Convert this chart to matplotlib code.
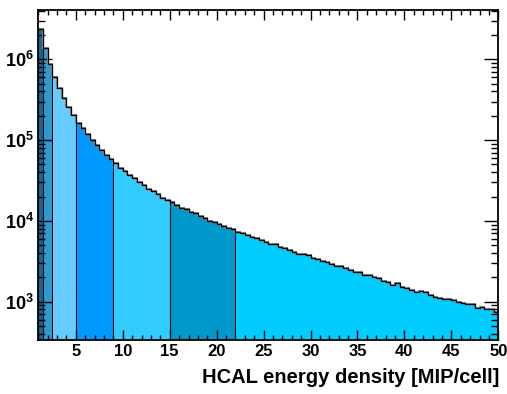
import numpy as np
import matplotlib
matplotlib.use("Agg")
import matplotlib.pyplot as plt
from matplotlib.ticker import MultipleLocator, LogLocator, FuncFormatter, NullFormatter

plt.rcParams['font.family'] = ['Liberation Sans', 'DejaVu Sans']
plt.rcParams['mathtext.fontset'] = 'custom'
plt.rcParams['mathtext.rm'] = 'Liberation Sans:bold'
plt.rcParams['mathtext.bf'] = 'Liberation Sans:bold'
plt.rcParams['mathtext.it'] = 'Liberation Sans:bold'

# ---- data -------------------------------------------------------------
bin_width = 0.5
x_start = 1.0
counts = [
    2.37e6, 1.38e6, 8.69e5, 6.04e5, 4.41e5, 3.31e5, 2.56e5, 2.02e5, 1.65e5, 1.41e5,
    1.18e5, 1.01e5, 8.75e4, 7.58e4, 6.58e4, 5.82e4, 5.19e4, 4.57e4, 4.17e4, 3.72e4,
    3.44e4, 3.07e4, 2.79e4, 2.51e4, 2.31e4, 2.14e4, 1.94e4, 1.82e4, 1.71e4, 1.58e4,
    1.46e4, 1.40e4, 1.30e4, 1.25e4, 1.16e4, 1.07e4, 1.00e4, 9.58e3, 9.18e3, 8.67e3,
    8.19e3, 7.85e3, 7.37e3, 7.04e3, 6.71e3, 6.39e3, 6.10e3, 5.82e3, 5.45e3, 5.19e3,
    5.12e3, 4.81e3, 4.59e3, 4.37e3, 4.09e3, 3.90e3, 3.87e3, 3.74e3, 3.48e3, 3.35e3,
    3.22e3, 3.08e3, 2.89e3, 2.79e3, 2.73e3, 2.62e3, 2.47e3, 2.35e3, 2.33e3, 2.14e3,
    2.11e3, 2.01e3, 1.95e3, 1.81e3, 1.77e3, 1.61e3, 1.69e3, 1.53e3, 1.47e3, 1.40e3,
    1.33e3, 1.36e3, 1.32e3, 1.21e3, 1.15e3, 1.12e3, 1.08e3, 1.08e3, 1.05e3, 1.00e3,
    955, 929, 925, 828, 853, 805, 800, 752,
]
region_bounds = [1.0, 1.5, 2.5, 5.0, 9.0, 15.0, 22.0, 50.0]
region_colors = ['#0f6a99', '#3399cc', '#66ccff', '#0099ff', '#33ccff', '#0099cc', '#00ccff']
x_ticks = [5, 10, 15, 20, 25, 30, 35, 40, 45, 50]
x_label = "HCAL energy density [MIP/cell]"
x_range = (1.0, 50.0)
y_range = (335, 4.08e6)

# ---- figure -----------------------------------------------------------
counts = np.array(counts, dtype=float)
edges = x_start + bin_width * np.arange(len(counts) + 1)

fig = plt.figure(figsize=(5.07, 3.94), dpi=100)
ax = fig.add_axes([38.3 / 507, 54 / 394, 460 / 507, 330 / 394])
ax.set_yscale('log')

for lo, hi, col in zip(region_bounds[:-1], region_bounds[1:], region_colors):
    i0 = int(round((lo - x_start) / bin_width))
    i1 = int(round((hi - x_start) / bin_width))
    ax.stairs(counts[i0:i1], edges[i0:i1 + 1], fill=True, facecolor=col,
              edgecolor='black', linewidth=0.75, baseline=1.0, zorder=2)

ax.stairs(counts, edges, color='#888888', linewidth=1.5, baseline=None, zorder=3)
ax.stairs(counts, edges, color='black', linewidth=0.9, baseline=None, zorder=4)

ax.set_xlim(*x_range)
ax.set_ylim(*y_range)

ax.xaxis.set_major_locator(plt.FixedLocator(x_ticks))
ax.xaxis.set_minor_locator(MultipleLocator(1))
ax.yaxis.set_major_locator(LogLocator(base=10, numticks=20))
ax.yaxis.set_minor_locator(LogLocator(base=10, subs=np.arange(2, 10), numticks=20))
ax.yaxis.set_minor_formatter(NullFormatter())

def yfmt(v, pos):
    e = int(round(np.log10(v)))
    return r'$\mathbf{10^{%d}}$' % e

ax.yaxis.set_major_formatter(FuncFormatter(yfmt))

ax.tick_params(axis='x', which='major', direction='in', length=7, width=1.0,
               top=True, bottom=True, labelsize=12, pad=3)
ax.tick_params(axis='x', which='minor', direction='in', length=3.5, width=1.0,
               top=True, bottom=True)
ax.tick_params(axis='y', which='major', direction='in', length=10, width=1.0,
               left=True, right=True, labelsize=13, pad=3)
ax.tick_params(axis='y', which='minor', direction='in', length=5, width=1.0,
               left=True, right=True)
for lab in ax.get_xticklabels():
    lab.set_fontweight('bold')

for sp in ax.spines.values():
    sp.set_linewidth(1.3)
    sp.set_zorder(6)
ax.set_axisbelow(False)

ax.set_xlabel(x_label, fontsize=14.5, fontweight='bold', ha='right')
ax.xaxis.set_label_coords(1.003, -0.085)
ax.xaxis.label.set_va('top')

fig.savefig('out.png', dpi=100)
